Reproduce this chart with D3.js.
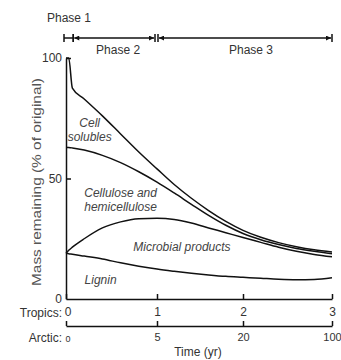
<!DOCTYPE html>
<html>
<head>
<meta charset="utf-8">
<script src="https://cdn.jsdelivr.net/npm/d3@7"></script>
<style>
  body { margin: 0; background: #fff; }
  svg { display: block; font-family: Arial, "Liberation Sans", sans-serif; }
  .axis path, .axis line { stroke: #111; stroke-width: 1.5; }
  .axis text { fill: #333; font-size: 12px; }
  .curve { fill: none; stroke: #111; stroke-width: 1.5; }
  .zone-label { fill: #444; font-size: 12px; font-style: italic; }
</style>
</head>
<body>
<svg id="chart" width="341" height="360"></svg>
<script>
// time in years (tropics scale)
var years = [0, 0.03, 0.07, 0.2, 0.4, 0.6, 0.8, 1.0, 1.2, 1.4, 1.6, 1.8, 2.0, 2.2, 2.4, 2.6, 2.8, 3.0];

// mass remaining, % of original (cumulative boundaries)
var totalMass     = [100, 100, 87.5, 83, 76, 68.5, 61, 54, 47.5, 41.8, 36.7, 32.2, 28.5, 25.6, 23.4, 21.7, 20.4, 19.5];
var celluloseMass = [63, 62.9, 62.7, 61.8, 59.6, 56.6, 52.8, 48.5, 44, 39.3, 34.7, 30.6, 27.2, 24.6, 22.6, 21, 19.8, 18.8];
var microbialMass = [19, 20.2, 21.5, 25, 29.5, 32, 33.3, 33.5, 33, 31.5, 29.5, 27.5, 25.5, 23.5, 21.5, 19.8, 18.5, 17.5];
var ligninMass    = [19, 18.8, 18.6, 17.8, 16.6, 15, 13.6, 12.4, 11.5, 10.7, 10, 9.4, 9, 8.6, 8.2, 8, 8.1, 8.8];

var yTicks = [0, 50, 100];
var tropicsTicks = [0, 1, 2, 3];
var arcticTicks = [0, 5, 20, 100];

var phaseNames = ['Phase 1', 'Phase 2', 'Phase 3'];
var phaseStart = [0, 0.08, 1];
var phaseEnd   = [0.08, 1, 3];

var zoneLabels = [
  { lines: ['Cell', 'solubles'], t: 0.26, v: 71.2 },
  { lines: ['Cellulose and', 'hemicellulose'], t: 0.6, v: 42.3 },
  { lines: ['Microbial products'], t: 1.29, v: 20 },
  { lines: ['Lignin'], t: 0.38, v: 6.3 }
];

var svg = d3.select('#chart');

var xLeft = 66;
var yTop = 58, yBottom = 299, arcticY = 326;

var x = d3.scaleLinear().domain(tropicsTicks).range([66, 157, 243, 332]);
var xArctic = d3.scaleLinear().domain(arcticTicks).range([66, 157, 243, 332]);
var y = d3.scaleLinear().domain([0, 100]).range([yBottom, yTop]);

// y axis, ticks pointing inward
var yAxis = svg.append('g')
  .attr('class', 'axis')
  .attr('transform', 'translate(' + xLeft + ',0)')
  .call(d3.axisLeft(y).tickValues(yTicks).tickSizeInner(-5).tickSizeOuter(0).tickPadding(4));
yAxis.selectAll('.tick').filter(function(d) { return d === 0; }).select('line').remove();

// tropics axis (bottom of plot)
var tropicsAxis = svg.append('g')
  .attr('class', 'axis')
  .attr('transform', 'translate(0,' + yBottom + ')')
  .call(d3.axisBottom(x).tickValues(tropicsTicks).tickFormat(d3.format('d'))
    .tickSizeInner(-5).tickSizeOuter(0).tickPadding(8));
tropicsAxis.selectAll('.tick').filter(function(d) { return d === 0; })
  .select('text').attr('x', 1.5);

// arctic axis
var arcticAxis = svg.append('g')
  .attr('class', 'axis')
  .attr('transform', 'translate(0,' + arcticY + ')')
  .call(d3.axisBottom(xArctic).tickValues(arcticTicks).tickFormat(d3.format('d'))
    .tickSizeInner(-5).tickSizeOuter(0).tickPadding(7));
arcticAxis.selectAll('text').style('font-size', '11px');
arcticAxis.selectAll('.tick').filter(function(d) { return d === 0; })
  .select('text').style('font-size', '9px').attr('x', 1.5).attr('dy', '1.0em');

svg.append('text').attr('x', 62).attr('y', 316.5).attr('text-anchor', 'end')
  .style('font-size', '12px').style('fill', '#333').text('Tropics:');
svg.append('text').attr('x', 62).attr('y', 342).attr('text-anchor', 'end')
  .style('font-size', '12px').style('fill', '#333').text('Arctic:');
svg.append('text').attr('x', 198).attr('y', 356).attr('text-anchor', 'middle')
  .style('font-size', '12px').style('fill', '#333').text('Time (yr)');

svg.append('text')
  .attr('transform', 'translate(41,182) rotate(-90)')
  .attr('text-anchor', 'middle')
  .attr('textLength', 208)
  .attr('lengthAdjust', 'spacingAndGlyphs')
  .style('font-size', '12px').style('fill', '#555')
  .text('Mass remaining (% of original)');

// curves
var series = [totalMass, celluloseMass, microbialMass, ligninMass];
var line = d3.line()
  .x(function(d, i) { return x(years[i]); })
  .y(function(d) { return y(d); })
  .curve(d3.curveMonotoneX);

svg.selectAll('.curve')
  .data(series)
  .enter()
  .append('path')
  .attr('class', 'curve')
  .attr('d', line);

// zone labels
var zl = svg.selectAll('.zone-label')
  .data(zoneLabels)
  .enter()
  .append('text')
  .attr('class', 'zone-label')
  .attr('text-anchor', 'middle')
  .attr('x', function(d) { return x(d.t); })
  .attr('y', function(d) { return y(d.v); });
zl.selectAll('tspan')
  .data(function(d) { return d.lines.map(function(l) { return { text: l, px: x(d.t) }; }); })
  .enter()
  .append('tspan')
  .attr('x', function(d) { return d.px; })
  .attr('dy', function(d, i) { return i === 0 ? 0 : 14; })
  .text(function(d) { return d.text; });

// phase bar
var defs = svg.append('defs');
defs.append('marker')
  .attr('id', 'arrow')
  .attr('viewBox', '0 0 10 10')
  .attr('refX', 10).attr('refY', 5)
  .attr('markerUnits', 'userSpaceOnUse')
  .attr('markerWidth', 6).attr('markerHeight', 5)
  .attr('orient', 'auto-start-reverse')
  .append('path').attr('d', 'M0,0L10,5L0,10Z').attr('fill', '#111');

var barY = 38;
var phases = phaseNames.map(function(n, i) {
  return { name: n, x0: x(phaseStart[i]) - (i === 0 ? 2 : 0) + (i === 2 ? 1 : 0),
           x1: x(phaseEnd[i]) - (i === 1 ? 2 : 0) };
});

var pg = svg.selectAll('.phase')
  .data(phases)
  .enter()
  .append('g')
  .attr('class', 'phase');

pg.append('line')
  .attr('x1', function(d, i) { return i === 0 ? d.x0 : d.x0 + 1; })
  .attr('x2', function(d, i) { return i === 0 ? d.x1 : d.x1 - 1; })
  .attr('y1', barY).attr('y2', barY)
  .attr('stroke', '#111').attr('stroke-width', 1.5)
  .attr('marker-start', function(d, i) { return i === 0 ? null : 'url(#arrow)'; })
  .attr('marker-end', function(d, i) { return i === 0 ? null : 'url(#arrow)'; });

pg.selectAll('.ptick')
  .data(function(d) { return [d.x0, d.x1]; })
  .enter()
  .append('line')
  .attr('x1', function(d) { return d; }).attr('x2', function(d) { return d; })
  .attr('y1', barY - 4).attr('y2', barY + 4)
  .attr('stroke', '#111').attr('stroke-width', 1.5);

pg.append('text')
  .attr('x', function(d, i) { return i === 0 ? 69 : (d.x0 + d.x1) / 2 + (i === 1 ? 4 : 6); })
  .attr('y', function(d, i) { return i === 0 ? 22 : 54; })
  .attr('text-anchor', 'middle')
  .style('font-size', '12px').style('fill', '#333')
  .text(function(d) { return d.name; });
</script>
</body>
</html>
